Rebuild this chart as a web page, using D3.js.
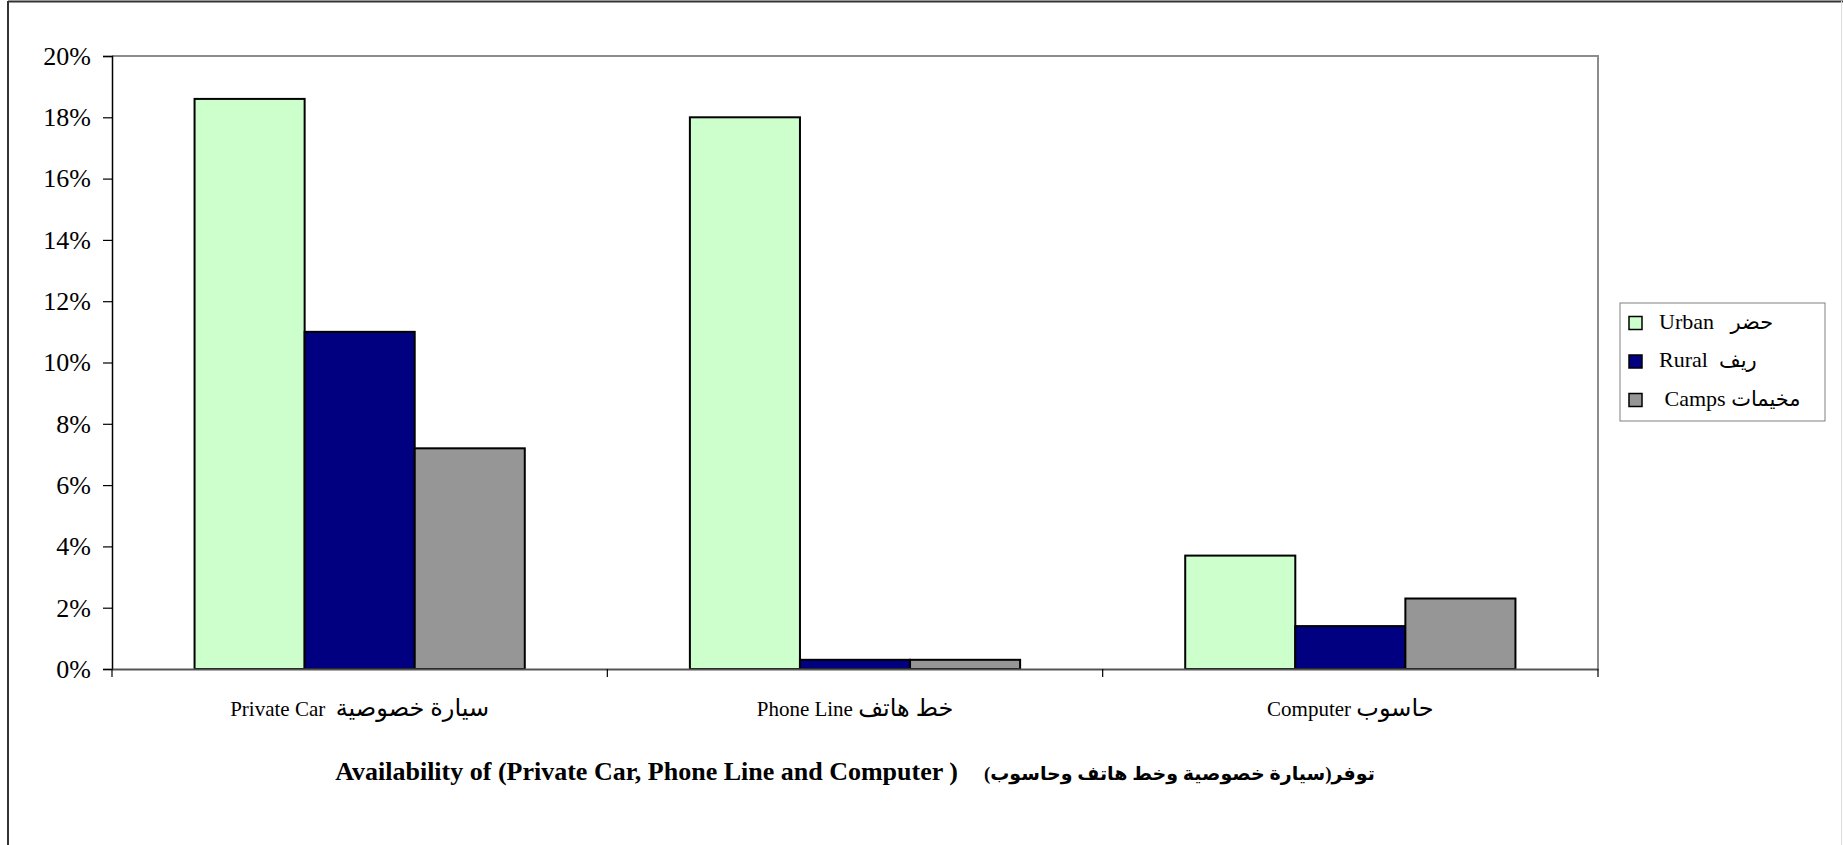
<!DOCTYPE html>
<html>
<head>
<meta charset="utf-8">
<script src="https://cdn.jsdelivr.net/npm/d3@7"></script>
<style>
  body { margin: 0; background: #fff; }
  text { font-family: "Liberation Serif", "Times New Roman", "DejaVu Sans", serif; fill: #000; white-space: pre; }
</style>
</head>
<body>
<div id="chart"></div>
<script>
// categories and series (percent)
var categoriesEn = ["Private Car  ", "Phone Line ", "Computer "];
var categoriesAr = ["سيارة خصوصية", "خط هاتف", "حاسوب"];
var seriesEn = ["Urban   ", "Rural  ", " Camps "];
var seriesAr = ["حضر", "ريف", "مخيمات"];
var urban = [18.6, 18.0, 3.7];
var rural = [11.0, 0.3, 1.4];
var camps = [7.2, 0.3, 2.3];
var yTicks = [0, 2, 4, 6, 8, 10, 12, 14, 16, 18, 20];
var titleEn = "Availability of (Private Car, Phone Line and Computer )    ";
var titleAr = "توفر(سيارة خصوصية وخط هاتف وحاسوب)";

var colors = ["#ccffcc", "#000080", "#969696"];
var values = [urban, rural, camps];

var W = 1843, H = 845;
var plot = {left: 112, right: 1598, top: 56, bottom: 669};

var svg = d3.select("#chart").append("svg")
    .attr("width", W)
    .attr("height", H);

// outer frame
svg.append("line").attr("x1", 8).attr("x2", 8).attr("y1", 1).attr("y2", H)
    .attr("stroke", "#333").attr("stroke-width", 2);
svg.append("line").attr("x1", 8).attr("x2", W).attr("y1", 1.5).attr("y2", 1.5)
    .attr("stroke", "#333").attr("stroke-width", 2);
svg.append("line").attr("x1", W - 1.5).attr("x2", W - 1.5).attr("y1", 1).attr("y2", H)
    .attr("stroke", "#ddd").attr("stroke-width", 1);

var x = d3.scaleBand()
    .domain(categoriesEn)
    .range([plot.left, plot.right]);

// bar width = band / (3 + 1.5 gap)
var barW = x.bandwidth() / 4.5;
var x1 = d3.scaleBand()
    .domain(seriesEn)
    .range([barW * 0.75, x.bandwidth() - barW * 0.75]);

var y = d3.scaleLinear()
    .domain([0, 20])
    .range([plot.bottom, plot.top]);

// plot area border (top + right)
svg.append("path")
    .attr("d", "M" + plot.left + "," + plot.top + "H" + plot.right + "V" + plot.bottom)
    .attr("fill", "none")
    .attr("stroke", "#8c8c8c")
    .attr("stroke-width", 2);

// bars
var rows = [];
categoriesEn.forEach(function(c, i) {
    seriesEn.forEach(function(s, j) {
        rows.push({cat: c, ser: s, v: values[j][i], j: j});
    });
});

svg.append("g").selectAll("rect")
    .data(rows)
    .enter()
    .append("rect")
    .attr("x", function(d) { return x(d.cat) + x1(d.ser); })
    .attr("y", function(d) { return y(d.v); })
    .attr("width", x1.bandwidth())
    .attr("height", function(d) { return y(0) - y(d.v); })
    .attr("fill", function(d) { return colors[d.j]; })
    .attr("stroke", "#000")
    .attr("stroke-width", 2);

// y axis
var yAxis = svg.append("g")
    .attr("transform", "translate(" + plot.left + ",0)")
    .call(d3.axisLeft(y).tickValues(yTicks).tickSize(9).tickPadding(12)
        .tickFormat(function(d) { return d + "%"; }));
yAxis.select(".domain").attr("stroke", "#000").attr("stroke-width", 1.5);
yAxis.selectAll(".tick line").attr("stroke", "#000").attr("stroke-width", 1.2);
yAxis.selectAll("text").style("font-size", "26px").attr("fill", "#000");

// x axis
var xAxis = svg.append("g")
    .attr("transform", "translate(0," + plot.bottom + ")")
    .call(d3.axisBottom(x).tickSize(0).tickFormat(""));
xAxis.select(".domain").attr("stroke", "#555").attr("stroke-width", 2);

// category boundary ticks
var bounds = categoriesEn.map(function(c) { return x(c); }).concat([x.range()[1]]);
svg.append("g").selectAll("line")
    .data(bounds)
    .enter()
    .append("line")
    .attr("x1", function(d) { return d; })
    .attr("x2", function(d) { return d; })
    .attr("y1", plot.bottom)
    .attr("y2", plot.bottom + 8)
    .attr("stroke", "#000")
    .attr("stroke-width", 1.2);

// category labels: English + Arabic
var catLabel = svg.append("g").selectAll("text")
    .data(categoriesEn)
    .enter()
    .append("text")
    .attr("x", function(d) { return x(d) + x.bandwidth() / 2; })
    .attr("y", 716)
    .attr("text-anchor", "middle");
catLabel.append("tspan")
    .style("font-size", "21px")
    .text(function(d) { return d; });
catLabel.append("tspan")
    .style("font-size", "24px")
    .text(function(d, i) { return categoriesAr[i]; });

// title
var title = svg.append("text")
    .attr("x", (plot.left + plot.right) / 2)
    .attr("y", 780)
    .attr("text-anchor", "middle")
    .style("font-weight", "bold");
title.append("tspan").style("font-size", "26px").text(titleEn);
title.append("tspan").style("font-size", "19px").text(titleAr);

// legend
var legend = svg.append("g").attr("transform", "translate(1620,303)");
legend.append("rect")
    .attr("width", 205)
    .attr("height", 118)
    .attr("fill", "#fff")
    .attr("stroke", "#808080")
    .attr("stroke-width", 1);

var item = legend.selectAll("g.item")
    .data(seriesEn)
    .enter()
    .append("g")
    .attr("class", "item")
    .attr("transform", function(d, i) { return "translate(0," + (20 + i * 38.5) + ")"; });

item.append("rect")
    .attr("x", 9)
    .attr("y", -6.5)
    .attr("width", 13)
    .attr("height", 13)
    .attr("fill", function(d, i) { return colors[i]; })
    .attr("stroke", "#000")
    .attr("stroke-width", 1.5);

var itemText = item.append("text")
    .attr("x", 39)
    .attr("dy", "0.35em");
itemText.append("tspan")
    .style("font-size", "22px")
    .text(function(d) { return d; });
itemText.append("tspan")
    .style("font-size", "21px")
    .text(function(d, i) { return seriesAr[i]; });
</script>
</body>
</html>
